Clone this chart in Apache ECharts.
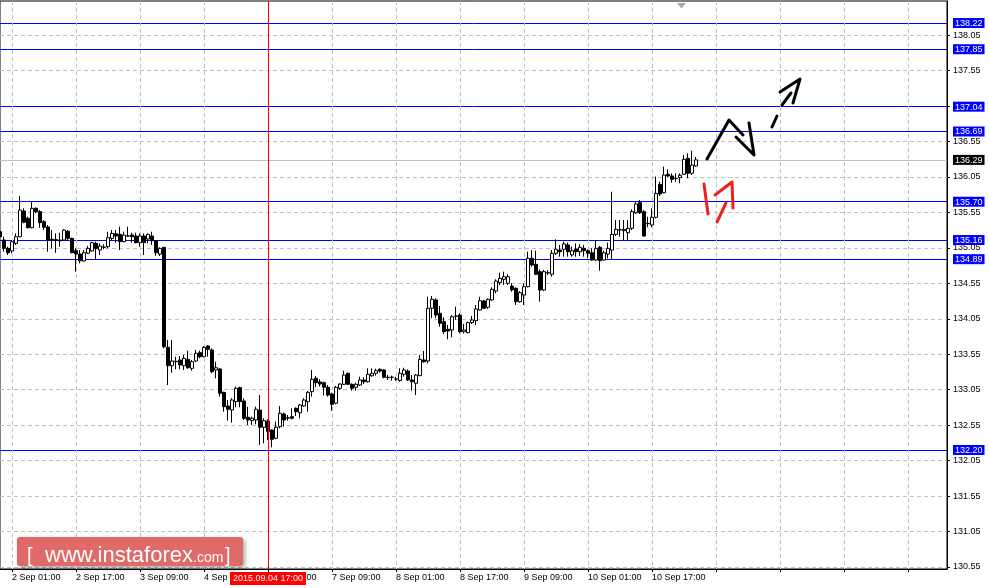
<!DOCTYPE html>
<html><head><meta charset="utf-8">
<script src="https://cdn.jsdelivr.net/npm/echarts@6/dist/echarts.min.js"></script>
<style>html,body{margin:0;padding:0;background:#fff}#c{width:989px;height:588px}</style>
</head><body><div id="c"></div>
<script>
// bar index 0 = 2 Sep 01:00 (H1 bars, weekend hours skipped)
const firstBar = -3;
const opens = [135.277,135.160,135.043,135.005,135.113,135.207,135.569,135.466,135.334,135.607,135.560,135.419,135.344,135.170,135.165,135.160,135.160,135.283,135.184,135.010,134.963,134.864,134.973,135.005,135.113,135.019,135.060,135.066,135.184,135.249,135.240,135.137,135.215,135.231,135.217,135.123,135.217,135.174,135.217,135.150,134.963,135.057,133.647,133.388,133.450,133.469,133.388,133.478,133.351,133.455,133.572,133.515,133.666,133.610,133.328,133.342,133.013,132.820,132.764,132.882,133.079,132.891,132.661,132.614,132.623,132.764,132.520,132.609,132.482,132.365,132.529,132.707,132.650,132.670,132.787,132.725,132.820,132.882,133.022,133.211,133.159,133.149,133.084,132.990,132.858,133.069,133.126,133.281,133.126,133.084,133.116,133.187,133.163,133.247,133.281,133.337,133.328,133.225,133.225,133.200,133.178,133.267,133.313,133.187,133.140,133.247,133.469,133.455,134.198,134.315,134.127,134.009,133.901,133.892,134.085,134.103,133.868,133.854,133.995,134.023,134.174,134.301,134.212,134.315,134.441,134.559,134.606,134.550,134.512,134.479,134.291,134.385,134.502,134.902,134.817,134.714,134.455,134.695,134.677,134.973,135.019,135.029,135.090,134.949,135.033,134.995,135.043,135.010,134.981,134.878,135.057,134.878,134.963,135.019,135.240,135.305,135.292,135.263,135.325,135.545,135.687,135.560,135.395,135.372,135.480,135.945,135.827,136.087,136.063,136.030,136.039,136.087,136.312,136.101,136.204];
const highs = [135.414,135.207,135.066,135.160,135.254,135.781,135.607,135.489,135.710,135.621,135.583,135.442,135.372,135.301,135.254,135.263,135.311,135.301,135.193,135.043,135.019,135.019,135.076,135.137,135.137,135.113,135.100,135.277,135.301,135.301,135.348,135.277,135.348,135.263,135.263,135.254,135.254,135.254,135.277,135.160,135.057,135.060,133.751,133.751,133.515,133.525,133.539,133.600,133.469,133.610,133.600,133.666,133.676,133.633,133.445,133.351,133.022,132.905,132.929,133.093,133.093,132.929,132.811,132.670,132.811,132.975,132.647,132.633,132.492,132.600,132.820,132.726,132.693,132.787,132.801,132.848,132.929,133.032,133.328,133.243,133.197,133.163,133.116,133.008,133.102,133.140,133.318,133.290,133.140,133.149,133.233,133.225,133.351,133.351,133.346,133.351,133.337,133.257,133.247,133.233,133.351,133.360,133.337,133.257,133.271,133.539,133.596,134.361,134.371,134.338,134.230,134.071,133.962,134.103,134.220,134.127,133.976,134.009,134.089,134.244,134.361,134.315,134.338,134.493,134.606,134.700,134.714,134.681,134.550,134.493,134.441,134.550,134.995,135.019,135.010,134.747,134.737,134.737,135.019,135.170,135.090,135.137,135.123,135.066,135.113,135.104,135.090,135.029,135.043,135.150,135.076,135.010,135.123,135.841,135.442,135.442,135.442,135.442,135.593,135.701,135.724,135.583,135.489,135.607,136.053,135.982,136.194,136.157,136.100,136.100,136.100,136.359,136.383,136.420,136.331];
const lows = [135.160,134.995,134.949,134.973,135.090,135.200,135.396,135.325,135.325,135.536,135.334,135.301,134.995,135.043,134.980,135.066,135.150,135.160,134.973,134.714,134.831,134.855,134.963,134.995,134.888,134.949,135.029,135.043,135.160,135.123,135.019,135.128,135.207,135.123,135.113,135.066,134.949,135.113,135.090,134.939,134.935,133.633,133.116,133.290,133.338,133.338,133.328,133.346,133.318,133.440,133.492,133.506,133.515,133.281,133.210,132.951,132.740,132.613,132.585,132.802,132.802,132.623,132.553,132.553,132.562,132.271,132.294,132.341,132.238,132.351,132.506,132.529,132.614,132.630,132.679,132.647,132.811,132.740,132.951,133.084,133.093,132.966,132.951,132.754,132.844,133.046,133.116,133.116,133.036,133.036,133.102,133.130,133.150,133.233,133.247,133.290,133.211,133.187,133.178,133.173,133.163,133.233,133.173,133.036,132.975,133.243,133.431,133.422,134.057,134.057,133.938,133.835,133.760,133.788,134.033,133.845,133.845,133.845,133.976,133.962,134.164,134.188,134.188,134.305,134.409,134.526,134.526,134.526,134.432,134.244,134.277,134.244,134.493,134.784,134.667,134.291,134.441,134.667,134.644,134.949,134.925,134.925,134.925,134.925,134.925,134.935,134.925,134.902,134.869,134.864,134.727,134.869,134.902,134.878,135.217,135.207,135.160,135.160,135.301,135.527,135.527,135.207,135.340,135.340,135.466,135.781,135.818,136.053,135.968,135.982,135.960,136.077,136.030,136.077,136.194];
const closes = [135.207,135.043,134.980,135.137,135.207,135.583,135.410,135.334,135.607,135.560,135.405,135.340,135.160,135.160,135.160,135.150,135.301,135.184,134.981,134.963,134.869,134.981,135.043,135.123,135.038,135.076,135.057,135.193,135.254,135.217,135.137,135.231,135.218,135.207,135.123,135.217,135.123,135.240,135.150,134.981,135.043,133.656,133.388,133.455,133.445,133.398,133.492,133.360,133.445,133.563,133.515,133.647,133.619,133.304,133.360,133.000,132.810,132.774,132.905,133.070,132.882,132.647,132.623,132.647,132.774,132.520,132.613,132.459,132.351,132.520,132.717,132.623,132.655,132.647,132.740,132.834,132.905,133.013,133.197,133.149,133.130,133.084,132.975,132.844,133.084,133.130,133.257,133.126,133.070,133.126,133.187,133.163,133.267,133.281,133.318,133.313,133.225,133.220,133.225,133.200,133.281,133.328,133.187,133.163,133.257,133.478,133.445,134.198,134.324,134.103,133.986,133.868,133.877,134.079,134.090,133.868,133.892,133.995,134.033,134.188,134.305,134.198,134.324,134.465,134.582,134.620,134.643,134.643,134.456,134.291,134.418,134.502,134.902,134.808,134.677,134.455,134.714,134.700,134.973,135.029,134.995,135.104,134.995,135.010,134.995,135.057,135.010,134.973,134.878,135.043,134.869,134.981,135.043,135.240,135.311,135.301,135.311,135.325,135.560,135.668,135.545,135.217,135.390,135.480,135.818,135.809,136.077,136.063,136.016,136.025,136.073,136.298,136.101,136.218,136.290];

const xTickLabels = ['2 Sep 01:00','2 Sep 17:00','3 Sep 09:00','4 Sep 01:00','4 Sep 17:00','7 Sep 09:00','8 Sep 01:00','8 Sep 17:00','9 Sep 09:00','10 Sep 01:00','10 Sep 17:00'];
const xTickBars = [0,16,32,48,64,80,96,112,128,144,160];
const xGridBars = [0,16,32,48,64,80,96,112,128,144,160,176,192,208,224];
const yTicks = [130.55,131.05,131.55,132.05,132.55,133.05,133.55,134.05,134.55,135.05,135.55,136.05,136.55,137.05,137.55,138.05];
const levels = [138.22,137.85,137.04,136.69,135.70,135.16,134.89,132.20];
const bidPrice = 136.29;
const markedBar = 64;
const markedLabel = '2015.09.04 17:00';

const FONT = 'Liberation Sans';
const candles = opens.map((o, i) => [firstBar + i, o, closes[i], lows[i], highs[i]]);

// horizontal level lines (+ bid line), sorted ascending for the axis split lines
const levelItems = levels.map(v => ({ v, color: '#0000ff' }))
  .concat([{ v: bidPrice, color: '#c0c0c0' }])
  .sort((a, b) => a.v - b.v);
const levelValues = levelItems.map(d => d.v);
const levelColors = levelItems.map(d => d.color);

const labelBox = { color: '#fff', padding: [1, 2, 0, 2], lineHeight: 10, fontSize: 9, fontFamily: FONT };

const chart = echarts.init(document.getElementById('c'));
chart.setOption({
  animation: false,
  backgroundColor: '#fff',
  grid: { left: 0, right: 42, top: 1, bottom: 19, show: true, borderColor: '#000', borderWidth: 1, containLabel: false, outerBoundsMode: 'none' },
  xAxis: {
    type: 'value', min: firstBar, max: 233.75,
    axisLine: { show: true, onZero: false, lineStyle: { color: '#000', width: 1 } },
    axisTick: { show: true, length: 3, customValues: xGridBars, lineStyle: { color: '#000' } },
    axisLabel: { show: true, align: 'left', margin: 4, fontSize: 9, fontFamily: FONT, color: '#000', customValues: xTickBars,
      formatter: v => { const j = xTickBars.indexOf(v); return j >= 0 ? xTickLabels[j] : ''; } },
    splitLine: { show: true, lineStyle: { color: '#c0c0c0', width: 1, type: [4, 3] } }
  },
  yAxis: [{
    type: 'value', position: 'right', min: 130.522, max: 138.53, scale: true,
    axisLine: { show: true, onZero: false, lineStyle: { color: '#000', width: 1 } },
    axisTick: { show: true, length: 3, customValues: yTicks, lineStyle: { color: '#000' } },
    axisLabel: { show: true, margin: 6, fontSize: 9, fontFamily: FONT, color: '#000', customValues: yTicks,
      formatter: v => v.toFixed(2) },
    splitLine: { show: true, lineStyle: { color: '#c0c0c0', width: 1, type: [4, 3] } }
  }, {
    type: 'value', position: 'right', min: 130.522, max: 138.53, scale: true,
    axisLine: { show: false, onZero: false },
    axisTick: { show: false, customValues: levelValues },
    axisLabel: { show: true, margin: 6, customValues: levelValues,
      formatter: v => (Math.abs(v - bidPrice) < 1e-6 ? '{k|' : '{b|') + v.toFixed(2) + '}',
      rich: {
        b: Object.assign({ backgroundColor: '#0000ff' }, labelBox),
        k: Object.assign({ backgroundColor: '#000000' }, labelBox)
      } },
    splitLine: { show: true, lineStyle: { color: levelColors, width: 1, type: 'solid' } }
  }],
  series: [
    {
      type: 'candlestick', z: 3,
      dimensions: ['x', 'open', 'close', 'lowest', 'highest'],
      encode: { x: 'x', y: ['open', 'close', 'lowest', 'highest'] },
      data: candles,
      barWidth: 3,
      itemStyle: { color: '#ffffff', color0: '#000000', borderColor: '#000000', borderColor0: '#000000', borderColorDoji: '#000000', borderWidth: 1 }
    },
    {
      type: 'line', data: [], silent: true, z: 5,
      markLine: {
        silent: true, symbol: ['none', 'none'], z: 5, animation: false,
        data: [{
          xAxis: markedBar,
          lineStyle: { color: '#ff0000', width: 1, type: 'solid' },
          label: Object.assign({ show: true, position: 'start', distance: 3, formatter: markedLabel,
            backgroundColor: '#ff0000' }, labelBox, { padding: [2, 3, 1, 3] })
        }]
      }
    }
  ],
  graphic: [
    { type: 'polygon', shape: { points: [[677, 3], [686, 3], [681.5, 8.5]] }, style: { fill: '#a8a8a8' }, z: 10 },
    { type: 'polyline', shape: { points: [[707, 159], [729, 120], [743, 135]] }, style: { stroke: '#000', lineWidth: 3, lineCap: 'round', lineJoin: 'round', fill: null }, z: 10 },
    { type: 'polyline', shape: { points: [[736, 137], [754, 155], [749, 123]] }, style: { stroke: '#000', lineWidth: 3, lineCap: 'round', lineJoin: 'round', fill: null }, z: 10 },
    { type: 'line', shape: { x1: 772, y1: 127, x2: 777, y2: 116 }, style: { stroke: '#000', lineWidth: 3, lineCap: 'round' }, z: 10 },
    { type: 'line', shape: { x1: 782, y1: 105, x2: 791, y2: 93 }, style: { stroke: '#000', lineWidth: 3, lineCap: 'round' }, z: 10 },
    { type: 'polyline', shape: { points: [[780, 92], [800, 79], [793, 103]] }, style: { stroke: '#000', lineWidth: 3, lineCap: 'round', lineJoin: 'round', fill: null }, z: 10 },
    { type: 'line', shape: { x1: 704, y1: 184, x2: 708, y2: 214 }, style: { stroke: '#ee2020', lineWidth: 3, lineCap: 'round' }, z: 10 },
    { type: 'line', shape: { x1: 717, y1: 222, x2: 726, y2: 203 }, style: { stroke: '#ee2020', lineWidth: 3, lineCap: 'round' }, z: 10 },
    { type: 'polyline', shape: { points: [[715, 195], [732, 182], [733, 208]] }, style: { stroke: '#ee2020', lineWidth: 3, lineCap: 'round', lineJoin: 'round', fill: null }, z: 10 },
    { type: 'rect', shape: { x: 17, y: 537, width: 226, height: 29, r: 3 }, style: { fill: '#e06a6a', shadowBlur: 4, shadowColor: 'rgba(0,0,0,0.35)', shadowOffsetX: 2, shadowOffsetY: 2 }, z: 20 },
    { type: 'text', x: 27, y: 556, style: { text: '[', fill: '#fff', font: '20px "Liberation Sans"', verticalAlign: 'middle' }, z: 21 },
    { type: 'text', x: 45, y: 555.5, style: { text: 'www.instaforex', fill: '#fff', font: '22px "Liberation Sans"', verticalAlign: 'middle' }, z: 21 },
    { type: 'text', x: 193, y: 558.5, style: { text: '.com', fill: '#fff', font: '14px "Liberation Sans"', verticalAlign: 'middle' }, z: 21 },
    { type: 'text', x: 225, y: 556, style: { text: ']', fill: '#fff', font: '20px "Liberation Sans"', verticalAlign: 'middle' }, z: 21 }
  ]
});
</script>
</body></html>
